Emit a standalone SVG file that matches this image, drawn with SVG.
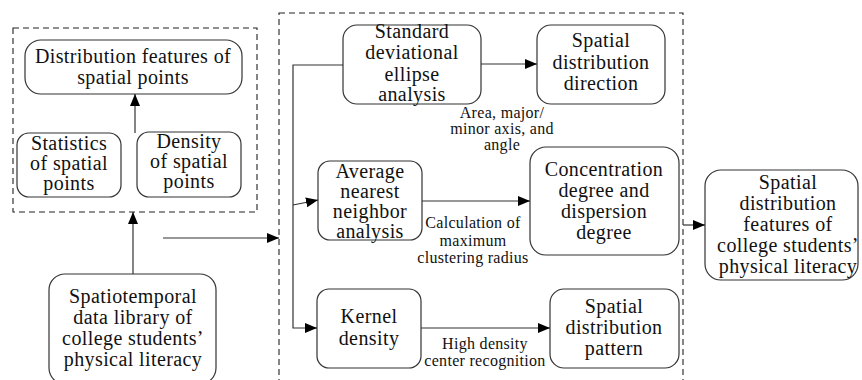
<svg xmlns="http://www.w3.org/2000/svg" width="862" height="380" viewBox="0 0 862 380" font-family="Liberation Serif, Times New Roman, serif">
<style>
.node{fill:#fff;stroke:#333;stroke-width:1.2}
.grp{fill:none;stroke:#222;stroke-width:1.1;stroke-dasharray:6,4}
.t{font-size:20px;letter-spacing:0.4px;text-anchor:middle;fill:#111}
.l{font-size:16px;letter-spacing:0.3px;text-anchor:middle;fill:#111}
.c{fill:none;stroke:#333;stroke-width:1.2}
</style>
<defs>
<marker id="ah" markerUnits="userSpaceOnUse" markerWidth="12" markerHeight="10" refX="12" refY="5" orient="auto">
<path d="M0,0 L12,5 L0,10 Z" fill="#000"/>
</marker>
</defs>
<rect class="grp" x="13" y="28" width="244" height="184"/>
<rect class="grp" x="279" y="13" width="404" height="372"/>
<g id="dist-features" font-family="Liberation Serif, serif">
<rect class="node" x="25" y="40" width="217" height="54" rx="16"/>
<text class="t" x="133" y="63">Distribution features of</text>
<text class="t" x="133" y="84">spatial points</text>
</g>
<g id="statistics" font-family="Liberation Serif, serif">
<rect class="node" x="17" y="133" width="104" height="64" rx="12"/>
<text class="t" x="69" y="150">Statistics</text>
<text class="t" x="69" y="170">of spatial</text>
<text class="t" x="69" y="190">points</text>
</g>
<g id="density" font-family="Liberation Serif, serif">
<rect class="node" x="137" y="132" width="104" height="65" rx="12"/>
<text class="t" x="189" y="148">Density</text>
<text class="t" x="189" y="168">of spatial</text>
<text class="t" x="189" y="188">points</text>
</g>
<g id="library" font-family="Liberation Serif, serif">
<rect class="node" x="49" y="274" width="167" height="110" rx="16"/>
<text class="t" x="133" y="303">Spatiotemporal</text>
<text class="t" x="133" y="324">data library of</text>
<text class="t" x="133" y="345">college students’</text>
<text class="t" x="133" y="366">physical literacy</text>
</g>
<g id="sde" font-family="Liberation Serif, serif">
<rect class="node" x="343" y="25" width="138" height="79" rx="14"/>
<text class="t" x="412" y="38">Standard</text>
<text class="t" x="412" y="59">deviational</text>
<text class="t" x="412" y="81">ellipse</text>
<text class="t" x="412" y="101">analysis</text>
</g>
<g id="direction" font-family="Liberation Serif, serif">
<rect class="node" x="537" y="25" width="128" height="79" rx="14"/>
<text class="t" x="601" y="47">Spatial</text>
<text class="t" x="601" y="69">distribution</text>
<text class="t" x="601" y="90">direction</text>
</g>
<g id="ann" font-family="Liberation Serif, serif">
<rect class="node" x="318" y="161" width="104" height="79" rx="12"/>
<text class="t" x="370" y="178">Average</text>
<text class="t" x="370" y="198">nearest</text>
<text class="t" x="370" y="218">neighbor</text>
<text class="t" x="370" y="238">analysis</text>
</g>
<g id="concentration" font-family="Liberation Serif, serif">
<rect class="node" x="530" y="147" width="149" height="108" rx="16"/>
<text class="t" x="604" y="176">Concentration</text>
<text class="t" x="604" y="197">degree and</text>
<text class="t" x="604" y="218">dispersion</text>
<text class="t" x="604" y="239">degree</text>
</g>
<g id="kernel" font-family="Liberation Serif, serif">
<rect class="node" x="317" y="289" width="104" height="79" rx="12"/>
<text class="t" x="369" y="323">Kernel</text>
<text class="t" x="369" y="345">density</text>
</g>
<g id="pattern" font-family="Liberation Serif, serif">
<rect class="node" x="550" y="289" width="129" height="79" rx="14"/>
<text class="t" x="614" y="313">Spatial</text>
<text class="t" x="614" y="334">distribution</text>
<text class="t" x="614" y="355">pattern</text>
</g>
<g id="result" font-family="Liberation Serif, serif">
<rect class="node" x="705" y="170" width="153" height="110" rx="16"/>
<text class="t" x="788" y="189">Spatial</text>
<text class="t" x="788" y="210">distribution</text>
<text class="t" x="788" y="231">features of</text>
<text class="t" x="788" y="252">college students’</text>
<text class="t" x="788" y="273">physical literacy</text>
</g>
<g id="connectors" font-family="Liberation Serif, serif">
<line class="c" x1="135" y1="133" x2="135" y2="94" marker-end="url(#ah)"/>
<line class="c" x1="133" y1="274" x2="133" y2="212" marker-end="url(#ah)"/>
<line class="c" x1="163" y1="238" x2="279" y2="238" marker-end="url(#ah)"/>
<polyline class="c" points="343,65 293,65 293,328 317,328" marker-end="url(#ah)"/>
<line class="c" x1="293" y1="205" x2="318" y2="200" marker-end="url(#ah)"/>
<line class="c" x1="481" y1="64" x2="537" y2="64" marker-end="url(#ah)"/>
<line class="c" x1="422" y1="201" x2="530" y2="201" marker-end="url(#ah)"/>
<line class="c" x1="421" y1="328" x2="550" y2="328" marker-end="url(#ah)"/>
<line class="c" x1="683" y1="225" x2="705" y2="225" marker-end="url(#ah)"/>
<text class="l" x="502" y="118">Area, major/</text>
<text class="l" x="502" y="134">minor axis, and</text>
<text class="l" x="502" y="150">angle</text>
<text class="l" x="473" y="228">Calculation of</text>
<text class="l" x="473" y="246">maximum</text>
<text class="l" x="473" y="263">clustering radius</text>
<text class="l" x="485" y="349">High density</text>
<text class="l" x="485" y="366">center recognition</text>
</g>
</svg>
